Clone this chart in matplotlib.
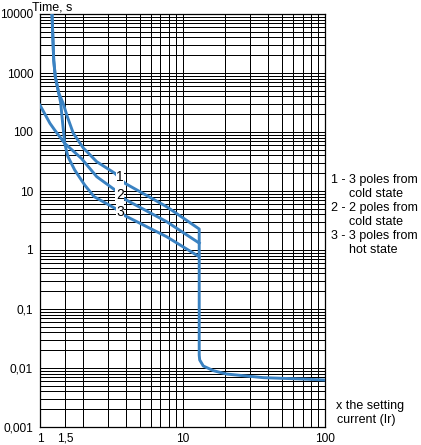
import matplotlib
matplotlib.use("Agg")
import matplotlib.pyplot as plt

plt.rcParams['font.family'] = ['Liberation Sans', 'DejaVu Sans']

# Curve data (multiple of setting current, time in s)
c1_x = [1.214, 1.248, 1.28, 1.353, 1.45, 1.555, 1.713, 2.013, 2.5, 3.36, 3.95,
        7.74, 13.1, 13.1, 13.2, 14.0, 16.5, 20.4, 36.9, 74.5, 100]
c1_y = [10000, 1660, 865, 458, 311, 182, 95, 53.6, 31.4, 19.9, 13.5,
        5.42, 2.27, 0.0166, 0.0137, 0.0108, 0.009, 0.0079, 0.00686, 0.00646, 0.00626]

c2_x = [1.0, 1.175, 1.268, 1.49, 1.95, 2.5, 3.36, 3.95, 7.74, 13.1]
c2_y = [285, 140, 108, 64.3, 35.8, 17.5, 10.4, 7.23, 3.02, 1.31]

c3_x = [1.214, 1.248, 1.28, 1.353, 1.397, 1.427, 1.49, 1.572, 1.752, 2.06, 2.4, 3.36, 3.95, 7.74, 13.1]
c3_y = [10000, 1660, 865, 458, 311, 182, 64.3, 38.1, 22.7, 12.6, 8.0, 5.09, 3.81, 1.68, 0.769]

curve_labels = ["1", "2", "3"]
label_x = [3.64, 3.64, 3.64]
label_y = [17.3, 8.56, 4.41]

legend_lines = ["1 - 3 poles from", "cold state", "2 - 2 poles from", "cold state",
                "3 - 3 poles from", "hot state"]

y_ticks = [0.001, 0.01, 0.1, 1, 10, 100, 1000, 10000]
y_tick_labels = ["0,001", "0,01", "0,1", "1", "10", "100", "1000", "10000"]
x_ticks = [1, 1.5, 10, 100]
x_tick_labels = ["1", "1,5", "10", "100"]

blue = '#3a82c2'
fs = 9.0

fig = plt.figure(figsize=(4.21, 4.45), dpi=100)
ax = fig.add_axes([40 / 421, 18 / 445, 285 / 421, 413 / 445])
ax.set_xscale('log')
ax.set_yscale('log')
ax.set_xlim(1, 100)
ax.set_ylim(0.001, 10000)

# grid: decades plus 2..9 in every decade, and 1,5 on the x axis
x_minor = [1.5] + [k for k in range(2, 10)] + [10 * k for k in range(2, 10)]
y_minor = [m * 10.0 ** e for e in range(-3, 4) for m in range(2, 10)]
ax.set_xticks(x_ticks)
ax.set_xticklabels(x_tick_labels)
ax.set_xticks(x_minor, minor=True)
ax.set_xticklabels([], minor=True)
ax.set_yticks(y_ticks)
ax.set_yticklabels(y_tick_labels)
ax.set_yticks(y_minor, minor=True)
ax.set_yticklabels([], minor=True)
ax.grid(True, which='both', color='black', linewidth=0.72)
ax.tick_params(which='both', length=0, labelsize=8.6)
ax.tick_params(axis='x', pad=4)
ax.tick_params(axis='y', pad=5)
for s in ax.spines.values():
    s.set_linewidth(0.9)

for xs, ys in [(c1_x, c1_y), (c2_x, c2_y), (c3_x, c3_y)]:
    ax.plot(xs, ys, color=blue, linewidth=2.1, solid_joinstyle='round', zorder=3)

for t, lx, ly in zip(curve_labels, label_x, label_y):
    ax.text(lx, ly, t, fontsize=fs + 1, ha='center', va='center', zorder=4,
            bbox=dict(facecolor='white', edgecolor='none', pad=0.4))

fig.text(52 / 421, 1 - 7 / 445, "Time, s", fontsize=fs, ha='center', va='center')

leg_x = [331, 349, 331, 349, 331, 349]
for i, (t, lx) in enumerate(zip(legend_lines, leg_x)):
    fig.text(lx / 421, 1 - (180 + i * 14) / 445, t, fontsize=fs, ha='left', va='center')

fig.text(336 / 421, 1 - 406 / 445, "x the setting", fontsize=fs, ha='left', va='center')
fig.text(337 / 421, 1 - 420 / 445, "current (Ir)", fontsize=fs, ha='left', va='center')

fig.savefig('out.png', dpi=100)
